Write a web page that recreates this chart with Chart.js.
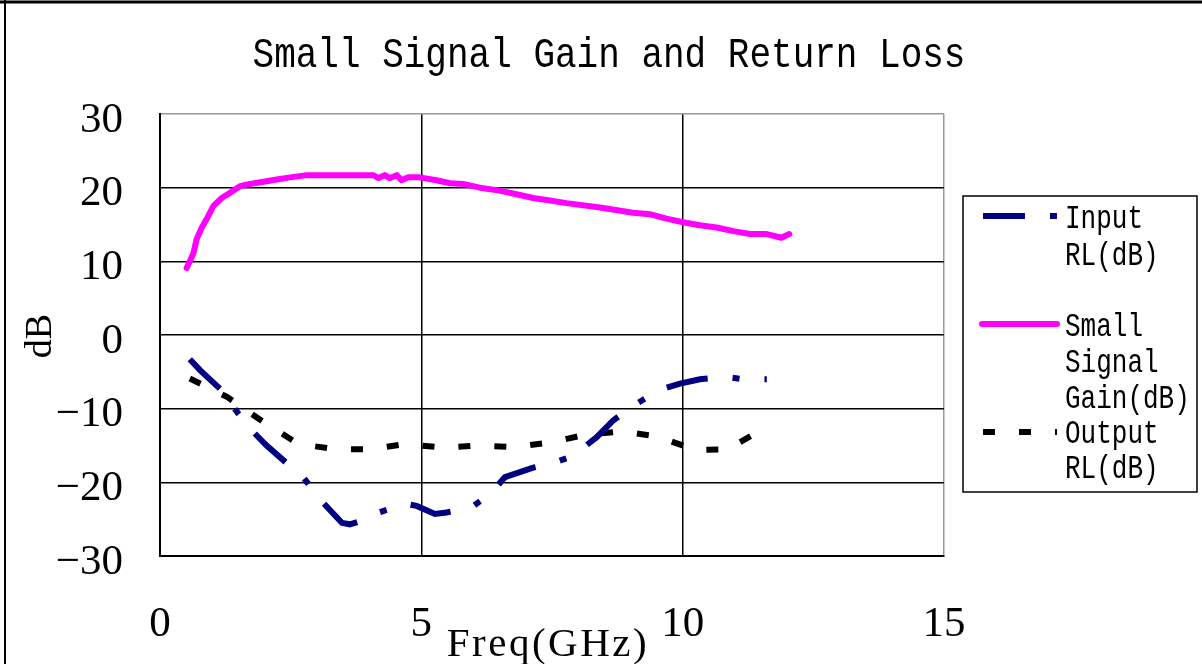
<!DOCTYPE html>
<html>
<head>
<meta charset="utf-8">
<script src="https://cdn.jsdelivr.net/npm/chart.js@4"></script>
<style>
  body { margin: 0; background: #fff; }
  canvas { display: block; }
</style>
</head>
<body>
<canvas id="lossChart" width="1202" height="664"></canvas>
<script>
// Small Signal Gain
const gainFreq = [0.51, 0.64, 0.70, 0.80, 0.92, 1.02, 1.18, 1.34, 1.53, 1.72, 1.98, 2.23, 2.49, 2.81, 3.32, 4.08, 4.18, 4.30, 4.40, 4.53, 4.62, 4.75, 4.97, 5.29, 5.55, 5.80, 6.12, 6.50, 6.82, 7.14, 7.43, 7.78, 8.42, 9.05, 9.37, 9.69, 10.01, 10.33, 10.65, 10.97, 11.29, 11.61, 11.89, 12.04];
const gainDb = [9.1, 11.1, 13.0, 14.6, 16.1, 17.5, 18.6, 19.3, 20.2, 20.5, 20.8, 21.1, 21.4, 21.7, 21.7, 21.7, 21.3, 21.7, 21.3, 21.7, 21.0, 21.4, 21.4, 21.0, 20.6, 20.5, 20.0, 19.6, 19.1, 18.6, 18.3, 17.9, 17.3, 16.6, 16.4, 15.8, 15.3, 14.9, 14.6, 14.1, 13.7, 13.7, 13.2, 13.7];

// Input RL
const inputFreq = [0.57, 0.77, 1.18, 1.50, 1.72, 2.04, 2.52, 2.74, 3.06, 3.48, 3.63, 3.95, 4.18, 4.69, 4.91, 5.26, 5.48, 5.96, 6.31, 6.60, 7.14, 7.46, 7.88, 8.35, 8.67, 9.02, 9.53, 9.95, 10.33, 10.84, 11.16, 11.61];
const inputDb = [-3.3, -4.8, -7.5, -10.7, -12.7, -15.0, -18.0, -19.3, -22.3, -25.5, -25.7, -25.0, -24.1, -22.9, -23.2, -24.3, -24.1, -23.4, -21.6, -19.3, -18.0, -17.5, -16.5, -13.9, -11.6, -9.8, -7.5, -6.6, -6.0, -5.7, -6.0, -6.0];

// Output RL
const outputFreq = [0.57, 1.28, 1.98, 2.65, 3.35, 4.02, 4.69, 5.42, 6.09, 6.79, 7.46, 8.16, 8.86, 9.53, 10.24, 10.90, 11.03, 11.61, 11.67];
const outputDb = [-5.9, -8.4, -11.8, -14.8, -15.5, -15.5, -14.8, -15.3, -15.0, -15.2, -14.6, -13.5, -13.1, -13.8, -15.6, -15.5, -14.8, -12.5, -12.0];

const xTicks = [0, 5, 10, 15];
const yTicks = [-30, -20, -10, 0, 10, 20, 30];

const legendLines = [['Input', 'RL(dB)'], ['Small', 'Signal', 'Gain(dB)'], ['Output', 'RL(dB)']];

function toPoints(xs, ys) {
  return xs.map((x, i) => ({ x: x, y: ys[i] }));
}

// text drawn a bit taller than the font, like the original's narrow glyphs
function tallText(ctx, text, x, y, size, align, sy, family, spacing) {
  ctx.save();
  ctx.translate(x, y);
  ctx.scale(1, sy);
  ctx.font = size + 'px ' + family;
  ctx.fillStyle = '#000';
  ctx.textAlign = align;
  ctx.textBaseline = 'alphabetic';
  if (spacing) ctx.letterSpacing = spacing;
  ctx.fillText(text, 0, 0);
  ctx.restore();
}

const decor = {
  id: 'decor',
  beforeDraw(chart) {
    const ctx = chart.ctx;
    ctx.save();
    ctx.fillStyle = '#fff';
    ctx.fillRect(0, 0, chart.width, chart.height);
    ctx.strokeStyle = '#000';
    ctx.lineWidth = 3;
    ctx.beginPath();
    ctx.moveTo(0, 2);
    ctx.lineTo(chart.width, 2);
    ctx.stroke();
    ctx.lineWidth = 2;
    ctx.beginPath();
    ctx.moveTo(5, 0);
    ctx.lineTo(5, chart.height);
    ctx.stroke();
    ctx.restore();
  },
  afterDraw(chart) {
    const ctx = chart.ctx;
    const mono = '"Liberation Mono", monospace';
    const serif = '"Liberation Serif", serif';

    tallText(ctx, 'Small Signal Gain and Return Loss', 609, 67, 36, 'center', 1.2, mono);

    // axis titles
    tallText(ctx, 'Freq(GHz)', 548, 656, 41, 'center', 1.0, serif, '2.5px');
    ctx.save();
    ctx.translate(51, 336);
    ctx.rotate(-Math.PI / 2);
    tallText(ctx, 'dB', 0, 0, 38, 'center', 1.0, serif);
    ctx.restore();

    // legend
    ctx.save();
    ctx.strokeStyle = '#000';
    ctx.lineWidth = 1.5;
    ctx.strokeRect(963, 196, 234, 296);
    const lineY = [216, 324, 432];
    const textY = [[228, 265], [336, 372, 408], [443, 478]];
    chart.data.datasets.forEach((ds, i) => {
      ctx.save();
      ctx.strokeStyle = ds.borderColor;
      ctx.lineWidth = ds.borderWidth;
      ctx.lineCap = ds.borderDash.length ? 'butt' : 'round';
      ctx.setLineDash(ds.borderDash);
      ctx.beginPath();
      ctx.moveTo(ds.borderDash.length ? 983 : 982, lineY[i]);
      ctx.lineTo(1057, lineY[i]);
      ctx.stroke();
      ctx.restore();
      legendLines[i].forEach((t, j) => {
        tallText(ctx, t, 1065, textY[i][j], 26, 'left', 1.25, mono);
      });
    });
    ctx.restore();
  }
};

const ctx = document.getElementById('lossChart').getContext('2d');
const lossChart = new Chart(ctx, {
  type: 'line',
  data: {
    datasets: [{
      label: 'Input RL(dB)',
      data: toPoints(inputFreq, inputDb),
      borderColor: '#000080',
      borderWidth: 6,
      borderDash: [42, 25, 7, 25],
      borderCapStyle: 'butt',
      pointRadius: 0,
      tension: 0
    }, {
      label: 'Small Signal Gain(dB)',
      data: toPoints(gainFreq, gainDb),
      borderColor: '#ff00ff',
      borderWidth: 6,
      borderDash: [],
      borderCapStyle: 'round',
      borderJoinStyle: 'round',
      pointRadius: 0,
      tension: 0
    }, {
      label: 'Output RL(dB)',
      data: toPoints(outputFreq, outputDb),
      borderColor: '#000000',
      borderWidth: 6,
      borderDash: [12, 24],
      borderCapStyle: 'butt',
      pointRadius: 0,
      tension: 0
    }]
  },
  options: {
    responsive: false,
    animation: false,
    devicePixelRatio: 1,
    layout: {
      padding: { left: 0, top: 114, right: 258, bottom: 0 }
    },
    plugins: {
      legend: { display: false },
      title: { display: false },
      tooltip: { enabled: false }
    },
    scales: {
      x: {
        type: 'linear',
        min: 0,
        max: 15,
        afterBuildTicks: (scale) => { scale.ticks = xTicks.map(v => ({ value: v })); },
        afterFit: (scale) => { scale.height = 108; },
        ticks: {
          padding: 43,
          color: '#000',
          font: { family: '"Liberation Serif", serif', size: 43 }
        },
        grid: {
          drawTicks: false,
          lineWidth: 1.5,
          color: (c) => (c.tick && c.tick.value === 15 ? '#9a9a9a' : '#000')
        },
        border: { color: '#000', width: 2 }
      },
      y: {
        min: -30,
        max: 30,
        afterBuildTicks: (scale) => { scale.ticks = yTicks.map(v => ({ value: v })); },
        afterFit: (scale) => { scale.width = 160; },
        ticks: {
          padding: 37,
          color: '#000',
          font: { family: '"Liberation Serif", serif', size: 43, lineHeight: 0.3 },
          // blank first line pushes the number a few pixels down, as in the original
          callback: (v) => ['', v < 0 ? '\u2212' + Math.abs(v) : String(v)]
        },
        grid: {
          drawTicks: false,
          lineWidth: 1.5,
          color: (c) => (c.tick && c.tick.value === 30 ? '#9a9a9a' : '#000')
        },
        border: { color: '#000', width: 2 }
      }
    }
  },
  plugins: [decor]
});
</script>
</body>
</html>
